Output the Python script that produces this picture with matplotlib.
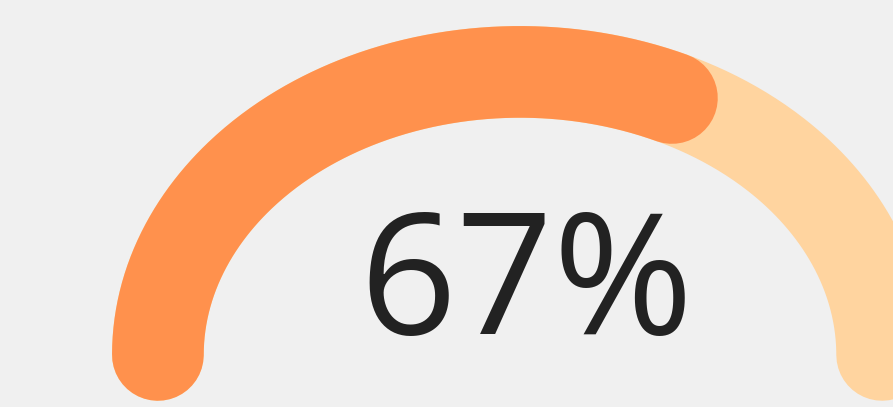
import numpy as np
import matplotlib.pyplot as plt

# gauge data
value = 67
max_value = 100
label = f"{value}%"

BG = "#f0f0f0"
FILL = "#ff914d"
TRACK = "#ffd49f"

fig = plt.figure(figsize=(8.93, 4.07), dpi=100, facecolor=BG)
ax = fig.add_axes([0, 0, 1, 1])
ax.set_facecolor(BG)

XLIM = (-1.436, 1.030)
YLIM = (-0.184, 1.254)
ax.set_xlim(*XLIM)
ax.set_ylim(*YLIM)

# the gauge is stretched wider than tall; sweep it by on-screen angle
sx = fig.get_figwidth() / (XLIM[1] - XLIM[0])
sy = fig.get_figheight() / (YLIM[1] - YLIM[0])


def arc(phi_from, phi_to, n=300):
    phi = np.linspace(phi_from, phi_to, n)
    t = np.arctan2(np.sin(phi) * sx, np.cos(phi) * sy)
    return np.cos(t), np.sin(t)


frac = value / max_value
ax.plot(*arc(np.pi, 0), color=TRACK, linewidth=66, solid_capstyle="round")
ax.plot(*arc(np.pi, np.pi * (1 - frac)), color=FILL, linewidth=66,
        solid_capstyle="round")

ax.text(0.017, 0.075, label, ha="center", va="baseline", fontsize=122,
        color="#222222", family=["Open Sans", "DejaVu Sans"])

ax.axis("off")

fig.savefig("out.png", dpi=100, facecolor=BG)
